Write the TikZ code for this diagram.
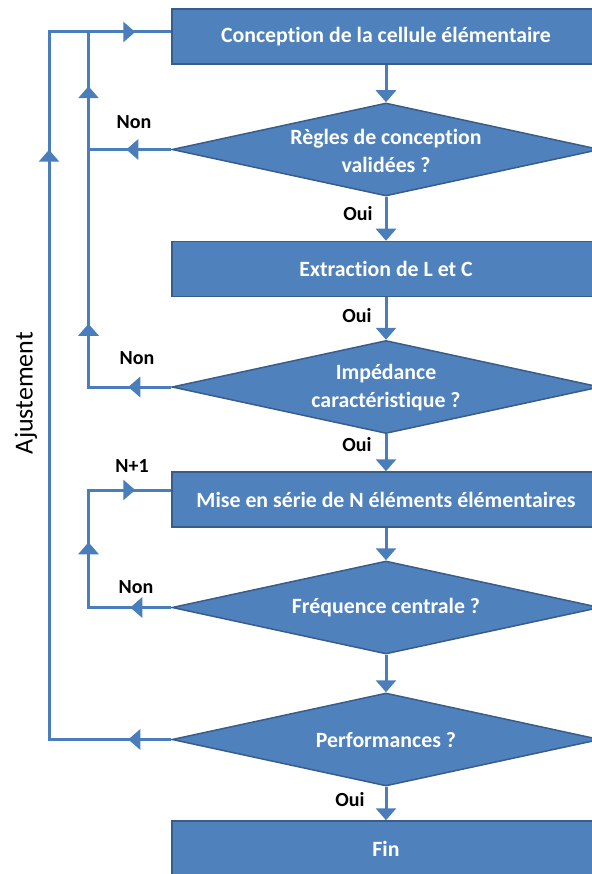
\documentclass[tikz,border=0pt]{standalone}
\usepackage{fontspec}
\setmainfont{Carlito}[Ligatures=NoCommon]
\usetikzlibrary{shapes.geometric,arrows.meta,decorations.markings}
\definecolor{boxfill}{HTML}{4F81BD}
\definecolor{boxdraw}{HTML}{385D8A}
\definecolor{flowc}{HTML}{4A7EBB}
\newcommand{\flowtip}{\arrow{Triangle[width=20pt,length=12pt]}}
\tikzset{
  stepbox/.style={rectangle, fill=boxfill, draw=boxdraw, line width=1.5pt, minimum width=428pt, minimum height=55pt, inner sep=0pt, text=white, font=\bfseries\fontsize{21.8}{28}\selectfont},
  dec/.style={diamond, fill=boxfill, draw=boxdraw, line width=1.5pt, minimum width=428pt, minimum height=93pt, inner sep=0pt},
  dtext/.style={text=white, align=center, inner sep=0pt, font=\bfseries\fontsize{21.8}{28}\selectfont},
  lbl/.style={text=black, inner sep=0pt, font=\bfseries\fontsize{20}{24}\selectfont},
  flow/.style={draw=flowc, line width=3pt, line join=miter},
  flowarrow/.style={flow, -{Triangle[width=20pt,length=12pt]}},
  midtips/.style={postaction={decorate}, decoration={markings, #1}},
}
\begin{document}
\begin{tikzpicture}[x=1pt,y=-1pt]
\useasboundingbox (0,0) rectangle (591,874);
% nodes
\node[stepbox] (b1) at (386,36.5) {Conception de la cellule élémentaire};
\node[dec] (d1) at (386,149.5) {};
\node[dtext] (d1t) at ([yshift=-1pt]d1) {Règles de conception\\validées ?};
\node[stepbox] (b2) at (386,269) {Extraction de L et C};
\node[dec] (d2) at (386,387) {};
\node[dtext] (d2t) at ([yshift=-1pt]d2) {Impédance\\caractéristique ?};
\node[stepbox] (b3) at (386,499.5) {Mise en série de N éléments élémentaires};
\node[dec] (d3) at (386,607.5) {};
\node[dtext] (d3t) at (d3) {Fréquence centrale ?};
\node[dec] (d4) at (386,739.5) {};
\node[dtext] (d4t) at (d4) {Performances ?};
\node[stepbox] (fin) at (386,848.5) {Fin};
% helper coordinates
\coordinate (oL) at (49,0);
\coordinate (iL) at (88.5,0);
\coordinate (top) at ([yshift=4.5pt]b1.west);
\coordinate (n1) at ([yshift=9.5pt]b3.west);
% main flow
\draw[flowarrow] (b1.south) -- (d1.north);
\draw[flowarrow] (d1.south) -- (b2.north);
\draw[flowarrow] (b2.south) -- (d2.north);
\draw[flowarrow] (d2.south) -- (b3.north);
\draw[flowarrow] (b3.south) -- (d3.north);
\draw[flowarrow] (d3.south) -- (d4.north);
\draw[flowarrow] (d4.south) -- (fin.north);
% loops
\draw[flow, midtips={mark=at position 43pt with {\flowtip}, mark=at position 712pt with {\flowtip}, mark=at position 916pt with {\flowtip}}]
  (d4.west) -- (d4.west -| oL) -- (oL |- top) -- (top);
\draw[flow, midtips={mark=at position 45pt with {\flowtip}, mark=at position 146pt with {\flowtip}}]
  (d1.west) -- (d1.west -| iL) -- (iL |- top);
\draw[flow, midtips={mark=at position 43pt with {\flowtip}, mark=at position 146pt with {\flowtip}}]
  (d2.west) -- (d2.west -| iL) -- (iL |- d1.west);
\draw[flow, midtips={mark=at position 41pt with {\flowtip}, mark=at position 148pt with {\flowtip}, mark=at position 247pt with {\flowtip}}]
  (d3.west) -- (d3.west -| iL) -- (iL |- n1) -- (n1);
% labels
\node[lbl] (non1) at (134,122) {Non};
\node[lbl] (oui1) at (358,214) {Oui};
\node[lbl] (oui2) at (357,316) {Oui};
\node[lbl] (non2) at (137,358) {Non};
\node[lbl] (oui3) at (357,445) {Oui};
\node[lbl] (np1) at (132,466) {N+1};
\node[lbl] (non3) at (136,587) {Non};
\node[lbl] (oui4) at (350,800) {Oui};
\node[rotate=90, inner sep=0pt, font=\fontsize{26}{30}\selectfont] (adj) at (26,393) {Ajustement};
\end{tikzpicture}
\end{document}
